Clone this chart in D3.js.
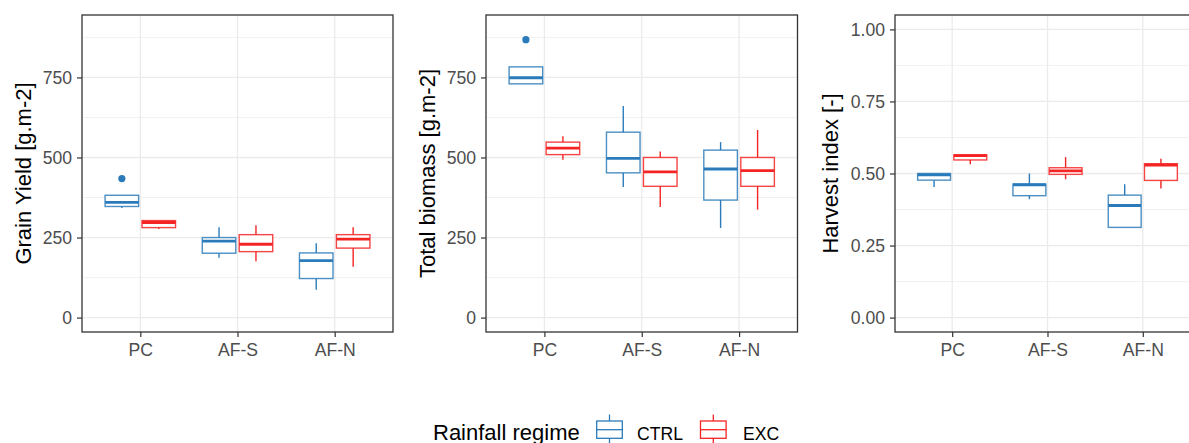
<!DOCTYPE html>
<html>
<head>
<meta charset="utf-8">
<script src="https://cdn.jsdelivr.net/npm/d3@7"></script>
<style>
  html, body { margin: 0; padding: 0; background: #ffffff; }
  svg { display: block; font-family: "Liberation Sans", Arial, sans-serif; }
</style>
</head>
<body>
<svg id="chart" width="1189" height="443"></svg>
<script>
// Categories and rainfall regimes
const sites = ["PC", "AF-S", "AF-N"];
const regimes = ["CTRL", "EXC"];
const regimeColors = ["#2B7BBA", "#F42424"];

// Box statistics per site: [lower whisker, Q1, median, Q3, upper whisker]
const grainCTRL = [[342, 347, 360, 382, 382], [187, 201, 239, 250, 282], [87, 122, 178, 202, 232]];
const grainEXC  = [[277, 281, 297, 303, 303], [176, 206, 229, 259, 288], [159, 217, 245, 259, 282]];
const grainOutliers = [{ site: "PC", regime: "CTRL", value: 434 }];

const biomassCTRL = [[730, 730, 749, 783, 783], [408, 452, 497, 579, 661], [280, 367, 464, 523, 548]];
const biomassEXC  = [[493, 509, 529, 548, 566], [345, 410, 455, 500, 519], [337, 410, 459, 500, 586]];
const biomassOutliers = [{ site: "PC", regime: "CTRL", value: 868 }];

const hiCTRL = [[0.453, 0.477, 0.495, 0.500, 0.500], [0.411, 0.423, 0.461, 0.463, 0.500], [0.313, 0.313, 0.389, 0.425, 0.463]];
const hiEXC  = [[0.532, 0.547, 0.562, 0.565, 0.565], [0.480, 0.497, 0.509, 0.520, 0.557], [0.448, 0.476, 0.529, 0.534, 0.551]];
const hiOutliers = [];

// Axis ticks and titles
const massTicks = [0, 250, 500, 750];
const hiTicks = [0, 0.25, 0.5, 0.75, 1.0];
const panelTitles = ["Grain Yield [g.m-2]", "Total biomass [g.m-2]", "Harvest index [-]"];
const legendTitle = "Rainfall regime";

// Panel layout
const panels = [
  { title: panelTitles[0], ctrl: grainCTRL, exc: grainEXC, outliers: grainOutliers,
    domain: [0, 900], ticks: massTicks, fmt: d3.format("d"), left: 82, right: 393, titleOffset: 59 },
  { title: panelTitles[1], ctrl: biomassCTRL, exc: biomassEXC, outliers: biomassOutliers,
    domain: [0, 900], ticks: massTicks, fmt: d3.format("d"), left: 486, right: 797.5, titleOffset: 59 },
  { title: panelTitles[2], ctrl: hiCTRL, exc: hiEXC, outliers: hiOutliers,
    domain: [0, 1], ticks: hiTicks, fmt: d3.format(".2f"), left: 895, right: 1200, titleOffset: 65 }
];
const panelTop = 15, panelBottom = 332;

const svg = d3.select("#chart");

panels.forEach(p => {
  const span = p.domain[1] - p.domain[0];
  const y = d3.scaleLinear()
    .domain([p.domain[0] - 0.05 * span, p.domain[1] + 0.05 * span])
    .range([panelBottom, panelTop]);
  const x = d3.scalePoint().domain(sites).range([p.left, p.right]).padding(0.6);
  const unit = x.step();
  const g = svg.append("g");

  // minor grid
  const minor = p.ticks.slice(0, -1).map((t, i) => (t + p.ticks[i + 1]) / 2)
    .concat([p.ticks[p.ticks.length - 1] + (p.ticks[1] - p.ticks[0]) / 2]);
  g.selectAll("line.minor").data(minor.filter(v => y(v) > panelTop)).enter().append("line")
    .attr("x1", p.left).attr("x2", p.right)
    .attr("y1", d => y(d)).attr("y2", d => y(d))
    .attr("stroke", "#EBEBEB").attr("stroke-width", 0.7);
  // major grid
  g.selectAll("line.majorY").data(p.ticks).enter().append("line")
    .attr("x1", p.left).attr("x2", p.right)
    .attr("y1", d => y(d)).attr("y2", d => y(d))
    .attr("stroke", "#EBEBEB").attr("stroke-width", 1.3);
  g.selectAll("line.majorX").data(sites).enter().append("line")
    .attr("x1", d => x(d)).attr("x2", d => x(d))
    .attr("y1", panelTop).attr("y2", panelBottom)
    .attr("stroke", "#EBEBEB").attr("stroke-width", 1.3);

  // boxes
  const boxW = 0.345 * unit;
  const dodge = 0.19 * unit;
  [p.ctrl, p.exc].forEach((series, ri) => {
    const col = regimeColors[ri];
    series.forEach((s, si) => {
      const cx = x(sites[si]) + (ri === 0 ? -dodge : dodge);
      const [lw, q1, med, q3, uw] = s;
      const bg = g.append("g");
      bg.append("line").attr("x1", cx).attr("x2", cx).attr("y1", y(q3)).attr("y2", y(uw))
        .attr("stroke", col).attr("stroke-width", 1.4);
      bg.append("line").attr("x1", cx).attr("x2", cx).attr("y1", y(q1)).attr("y2", y(lw))
        .attr("stroke", col).attr("stroke-width", 1.4);
      bg.append("rect").attr("x", cx - boxW / 2).attr("width", boxW)
        .attr("y", y(q3)).attr("height", Math.max(0, y(q1) - y(q3)))
        .attr("fill", "#ffffff").attr("stroke", col).attr("stroke-width", 1.4).attr("stroke-opacity", 0.85);
      bg.append("line").attr("x1", cx - boxW / 2).attr("x2", cx + boxW / 2)
        .attr("y1", y(med)).attr("y2", y(med))
        .attr("stroke", col).attr("stroke-width", 2.8);
    });
  });
  g.selectAll("circle.out").data(p.outliers).enter().append("circle")
    .attr("cx", d => x(d.site) + (regimes.indexOf(d.regime) === 0 ? -dodge : dodge))
    .attr("cy", d => y(d.value)).attr("r", 3.6)
    .attr("fill", d => regimeColors[regimes.indexOf(d.regime)]);

  // panel border
  g.append("rect").attr("x", p.left).attr("y", panelTop)
    .attr("width", p.right - p.left).attr("height", panelBottom - panelTop)
    .attr("fill", "none").attr("stroke", "#333333").attr("stroke-width", 1.3);

  // axes
  const ya = g.append("g").attr("transform", `translate(${p.left},0)`)
    .call(d3.axisLeft(y).tickValues(p.ticks).tickFormat(p.fmt).tickSize(5).tickPadding(5));
  const xa = g.append("g").attr("transform", `translate(0,${panelBottom})`)
    .call(d3.axisBottom(x).tickSize(5).tickPadding(7));
  [ya, xa].forEach(a => {
    a.select(".domain").remove();
    a.selectAll(".tick line").attr("stroke", "#333333").attr("stroke-width", 1.2);
    a.selectAll(".tick text").attr("fill", "#4D4D4D").style("font-size", "17.6px")
      .style("font-family", "'Liberation Sans', Arial, sans-serif");
  });

  // y title
  g.append("text")
    .attr("transform", `translate(${p.left - p.titleOffset},${(panelTop + panelBottom) / 2}) rotate(-90)`)
    .attr("text-anchor", "middle").attr("dominant-baseline", "central")
    .style("font-size", "22px").attr("fill", "#000000").text(p.title);
});

// legend
const lg = svg.append("g");
lg.append("text").attr("x", 433).attr("y", 439.5).style("font-size", "22px").attr("fill", "#000000")
  .text(legendTitle);
const keyX = [609.5, 713.3];
const labelX = [637, 743];
regimes.forEach((r, i) => {
  const cx = keyX[i], col = regimeColors[i];
  const k = lg.append("g");
  k.append("line").attr("x1", cx).attr("x2", cx).attr("y1", 414.5).attr("y2", 421)
    .attr("stroke", col).attr("stroke-width", 1.3);
  k.append("line").attr("x1", cx).attr("x2", cx).attr("y1", 438).attr("y2", 446)
    .attr("stroke", col).attr("stroke-width", 1.3);
  k.append("rect").attr("x", cx - 12.8).attr("y", 421).attr("width", 25.6).attr("height", 17.3)
    .attr("fill", "#ffffff").attr("stroke", col).attr("stroke-width", 1.3);
  k.append("line").attr("x1", cx - 12.8).attr("x2", cx + 12.8).attr("y1", 429.7).attr("y2", 429.7)
    .attr("stroke", col).attr("stroke-width", 1.3);
  lg.append("text").attr("x", labelX[i]).attr("y", 440).style("font-size", "17.6px")
    .attr("fill", "#000000").text(r);
});
</script>
</body>
</html>
